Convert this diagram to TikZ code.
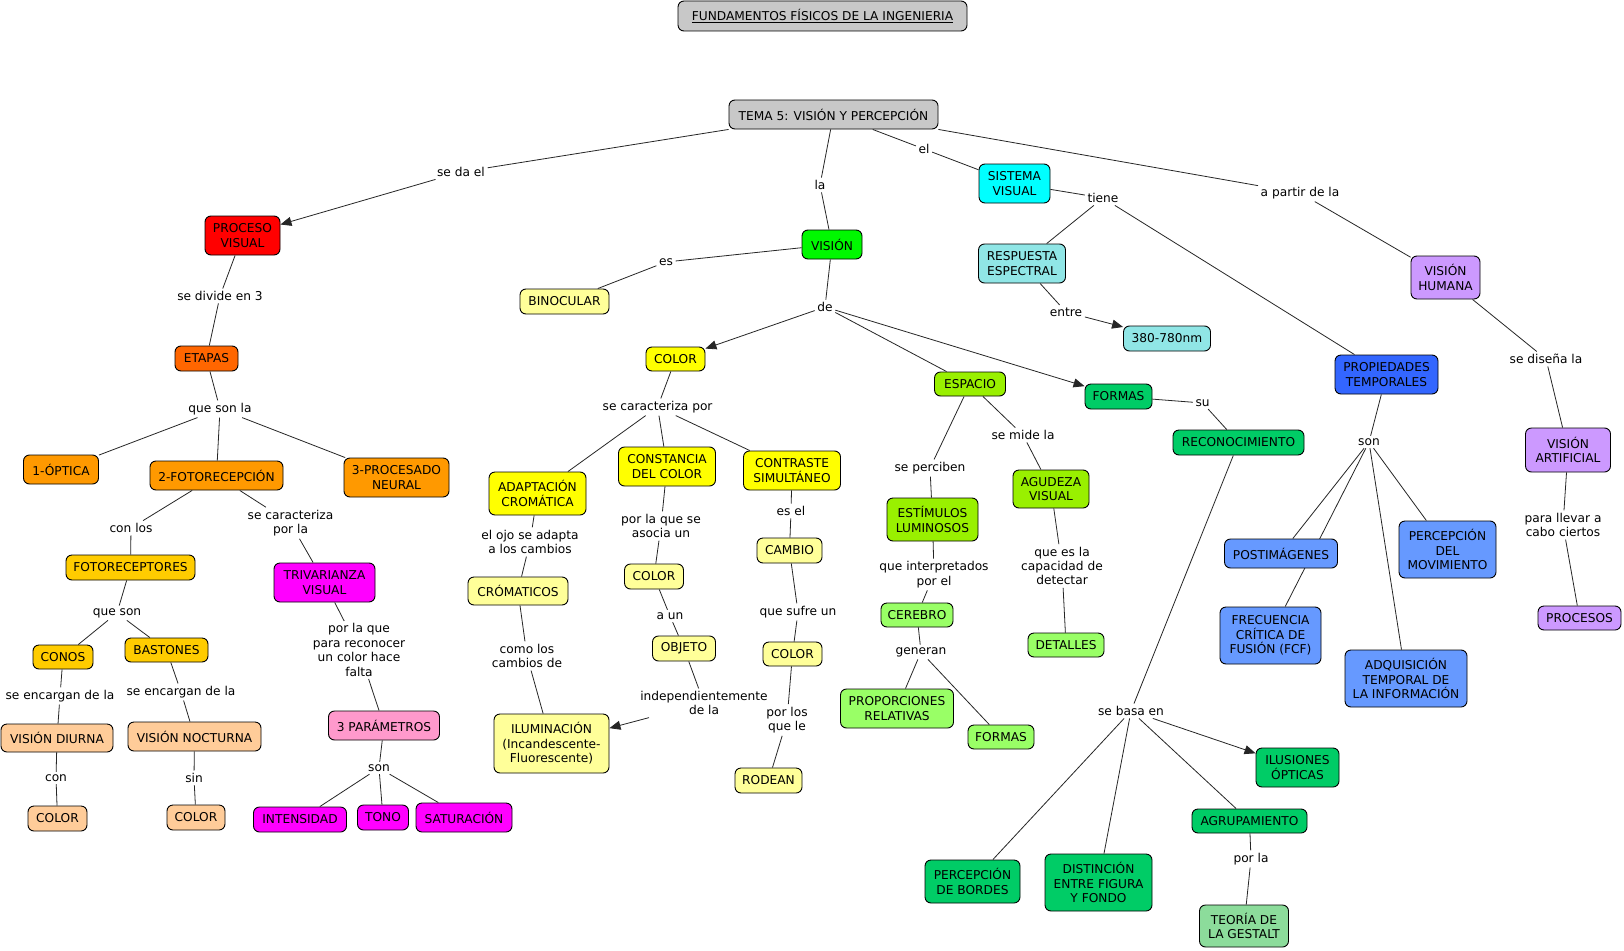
\documentclass[tikz,border=0pt]{standalone}
\usepackage{fontspec}
\setmainfont{DejaVu Sans}
\usetikzlibrary{arrows.meta}
\newcommand\fsz{\fontsize{12.2}{14.4}\selectfont}
\definecolor{cgray}{HTML}{C8C8C8}
\definecolor{cred}{HTML}{FF0000}
\definecolor{cetap}{HTML}{FF6600}
\definecolor{corng}{HTML}{FF9900}
\definecolor{cgold}{HTML}{FFCC00}
\definecolor{cpeach}{HTML}{FFCC99}
\definecolor{cmag}{HTML}{FF00FF}
\definecolor{cpink}{HTML}{FF99CC}
\definecolor{cgreen}{HTML}{00F800}
\definecolor{cyel}{HTML}{FFFF00}
\definecolor{clyel}{HTML}{FFFF99}
\definecolor{cchart}{HTML}{99F000}
\definecolor{clgreen}{HTML}{99FF66}
\definecolor{ccyan}{HTML}{00FFFF}
\definecolor{cteal}{HTML}{90E6E6}
\definecolor{cdgreen}{HTML}{00CC66}
\definecolor{cgestalt}{HTML}{8CDC9B}
\definecolor{cblue}{HTML}{3366FF}
\definecolor{clblue}{HTML}{6699FF}
\definecolor{cpurp}{HTML}{CC99FF}
\tikzset{
  cbox/.style={draw=black, rounded corners=6pt, line width=0.9pt, align=center, inner sep=1pt, font=\fsz, text=black},
  bxs/.style 2 args={minimum width=#1pt, minimum height=#2pt},
  lbl/.style={align=center, inner sep=2.5pt, font=\fsz, text=black},
  conn/.style={line width=0.8pt, draw=black!85},
  arw/.style={conn, -{Triangle[length=11pt,width=9pt]}},
}
\begin{document}
\begin{tikzpicture}[x=1pt,y=-1pt]
\useasboundingbox[fill=white] (0,0) rectangle (1624,950);
% ---------- concept nodes ----------
\node[cbox,fill=cgray,bxs={289}{30}] (title) at (822.5,16) {\underline{FUNDAMENTOS FÍSICOS DE LA INGENIERIA}};
\node[cbox,fill=cgray,bxs={209}{29}] (tema) at (833.5,114.5) {TEMA 5: VISIÓN Y PERCEPCIÓN};
\node[cbox,fill=cred,bxs={75}{39}] (pv) at (242.5,235.5) {PROCESO\\VISUAL};
\node[cbox,fill=cetap,bxs={63}{25}] (etapas) at (206.5,358.5) {ETAPAS};
\node[cbox,fill=corng,bxs={75}{29}] (optica) at (61,469.5) {1-ÓPTICA};
\node[cbox,fill=corng,bxs={133}{29}] (foto) at (216.5,475.5) {2-FOTORECEPCIÓN};
\node[cbox,fill=corng,bxs={105}{39}] (neural) at (396.5,477.5) {3-PROCESADO\\NEURAL};
\node[cbox,fill=cgold,bxs={129}{25}] (fotorec) at (130.5,567.5) {FOTORECEPTORES};
\node[cbox,fill=cmag,bxs={101}{39}] (trivar) at (324.5,582.5) {TRIVARIANZA\\VISUAL};
\node[cbox,fill=cgold,bxs={60}{24}] (conos) at (63,657) {CONOS};
\node[cbox,fill=cgold,bxs={83}{24}] (bastones) at (166.5,650) {BASTONES};
\node[cbox,fill=cpeach,bxs={112}{28}] (diurna) at (57,738) {VISIÓN DIURNA};
\node[cbox,fill=cpeach,bxs={133}{29}] (nocturna) at (194.5,736.5) {VISIÓN NOCTURNA};
\node[cbox,fill=cpeach,bxs={59}{25}] (colL) at (57.5,818.5) {COLOR};
\node[cbox,fill=cpeach,bxs={58}{25}] (colR) at (196,817.5) {COLOR};
\node[cbox,fill=cpink,bxs={111}{29}] (param) at (384,725.5) {3 PARÁMETROS};
\node[cbox,fill=cmag,bxs={93}{25}] (intens) at (300,819.5) {INTENSIDAD};
\node[cbox,fill=cmag,bxs={51}{25}] (tono) at (383,817.5) {TONO};
\node[cbox,fill=cmag,bxs={96}{29}] (satur) at (464,817.5) {SATURACIÓN};
\node[cbox,fill=cgreen,bxs={60}{29}] (vision) at (832,244.5) {VISIÓN};
\node[cbox,fill=clyel,bxs={89}{25}] (binoc) at (564.5,301.5) {BINOCULAR};
\node[cbox,fill=cyel,bxs={59}{24}] (colY) at (675.5,359) {COLOR};
\node[cbox,fill=cyel,bxs={97}{43}] (adapt) at (537.5,493.5) {ADAPTACIÓN\\CROMÁTICA};
\node[cbox,fill=cyel,bxs={97}{39}] (const) at (667,466.5) {CONSTANCIA\\DEL COLOR};
\node[cbox,fill=cyel,bxs={97}{39}] (contr) at (792,470.5) {CONTRASTE\\SIMULTÁNEO};
\node[cbox,fill=clyel,bxs={100}{28}] (cromat) at (518,591) {CRÓMATICOS};
\node[cbox,fill=clyel,bxs={115}{59}] (ilum) at (551.5,743.5) {ILUMINACIÓN\\(Incandescente-\\Fluorescente)};
\node[cbox,fill=clyel,bxs={59}{25}] (colM) at (654,576.5) {COLOR};
\node[cbox,fill=clyel,bxs={63}{25}] (objeto) at (684,648.5) {OBJETO};
\node[cbox,fill=clyel,bxs={65}{25}] (cambio) at (789.5,550.5) {CAMBIO};
\node[cbox,fill=clyel,bxs={59}{24}] (colLo) at (792.5,654) {COLOR};
\node[cbox,fill=clyel,bxs={67}{25}] (rodean) at (768.5,780.5) {RODEAN};
\node[cbox,fill=cchart,bxs={71}{24}] (espacio) at (970,384) {ESPACIO};
\node[cbox,fill=cchart,bxs={91}{43}] (estim) at (932.5,519.5) {ESTÍMULOS\\LUMINOSOS};
\node[cbox,fill=cchart,bxs={76}{38}] (agudeza) at (1051,489) {AGUDEZA\\VISUAL};
\node[cbox,fill=clgreen,bxs={72}{24}] (cerebro) at (917,615) {CEREBRO};
\node[cbox,fill=clgreen,bxs={113}{39}] (proporc) at (897,708.5) {PROPORCIONES\\RELATIVAS};
\node[cbox,fill=clgreen,bxs={66}{24}] (formasL) at (1001,737) {FORMAS};
\node[cbox,fill=clgreen,bxs={76}{24}] (detalles) at (1066,645) {DETALLES};
\node[cbox,fill=ccyan,bxs={71}{39}] (sistema) at (1014.5,183.5) {SISTEMA\\VISUAL};
\node[cbox,fill=cteal,bxs={87}{39}] (resp) at (1022,263.5) {RESPUESTA\\ESPECTRAL};
\node[cbox,fill=cteal,bxs={87}{25}] (nm) at (1167,338.5) {380-780nm};
\node[cbox,fill=cdgreen,bxs={67}{25}] (formasD) at (1118.5,396.5) {FORMAS};
\node[cbox,fill=cdgreen,bxs={131}{25}] (recon) at (1238.5,442.5) {RECONOCIMIENTO};
\node[cbox,fill=cdgreen,bxs={95}{43}] (bordes) at (972.5,881.5) {PERCEPCIÓN\\DE BORDES};
\node[cbox,fill=cdgreen,bxs={107}{57}] (distinc) at (1098.5,882.5) {DISTINCIÓN\\ENTRE FIGURA\\Y FONDO};
\node[cbox,fill=cdgreen,bxs={115}{24}] (agrup) at (1249.5,821) {AGRUPAMIENTO};
\node[cbox,fill=cdgreen,bxs={83}{39}] (ilus) at (1297.5,767.5) {ILUSIONES\\ÓPTICAS};
\node[cbox,fill=cgestalt,bxs={89}{42}] (gestalt) at (1244,926) {TEORÍA DE\\LA GESTALT};
\node[cbox,fill=cblue,bxs={103}{39}] (propied) at (1386.5,374.5) {PROPIEDADES\\TEMPORALES};
\node[cbox,fill=clblue,bxs={97}{57}] (movim) at (1447.5,549.5) {PERCEPCIÓN\\DEL\\MOVIMIENTO};
\node[cbox,fill=clblue,bxs={101}{57}] (fcf) at (1270.5,635.5) {FRECUENCIA\\CRÍTICA DE\\FUSIÓN (FCF)};
\node[cbox,fill=clblue,bxs={122}{57}] (adquis) at (1406,678.5) {ADQUISICIÓN\\TEMPORAL DE\\LA INFORMACIÓN};
\node[cbox,fill=cpurp,bxs={69}{43}] (vhum) at (1445.5,277.5) {VISIÓN\\HUMANA};
\node[cbox,fill=cpurp,bxs={85}{44}] (vart) at (1568,450) {VISIÓN\\ARTIFICIAL};
\node[cbox,fill=cpurp,bxs={83}{24}] (procesos) at (1579.5,618) {PROCESOS};
% ---------- linking phrases ----------
\node[lbl] (Lseda) at (461,172) {se da el};
\node[lbl] (Lla) at (820,185) {la};
\node[lbl] (Lel) at (924,149) {el};
\node[lbl] (Lapartir) at (1300,193) {a partir de la};
\node[lbl] (Ldivide) at (220,296) {se divide en 3};
\node[lbl] (Lqsonla) at (220,409) {que son la};
\node[lbl] (Lconlos) at (131,528) {con los};
\node[lbl] (Lcaractla) at (290.5,523) {se caracteriza\\por la};
\node[lbl] (Lqson) at (117,613) {que son};
\node[lbl] (Lporlaque) at (359,650) {por la que\\para reconocer\\un color hace\\falta};
\node[lbl] (Lencl) at (60,696) {se encargan de la};
\node[lbl] (Lencr) at (181,692) {se encargan de la};
\node[lbl] (Lcon) at (56,778) {con};
\node[lbl] (Lsin) at (194,778) {sin};
\node[lbl] (Lsonp) at (379,768) {son};
\node[lbl] (Les) at (666,262) {es};
\node[lbl] (Lde) at (825,307) {de};
\node[lbl] (Lcaractpor) at (657.6,407) {se caracteriza por};
\node[lbl] (Lojo) at (530,542) {el ojo se adapta\\a los cambios};
\node[lbl] (Lasocia) at (661,526) {por la que se\\asocia un};
\node[lbl] (Lesel) at (791,511) {es el};
\node[lbl] (Laun) at (670,616) {a un};
\node[lbl] (Lsufre) at (798,612) {que sufre un};
\node[lbl] (Lcomo) at (527,656) {como los\\cambios de};
\node[lbl] (Lindep) at (704,703) {independientemente\\de la};
\node[lbl] (Lporlos) at (787,720) {por los\\que le};
\node[lbl] (Lperciben) at (930,468) {se perciben};
\node[lbl] (Lmide) at (1023,435) {se mide la};
\node[lbl] (Linterp) at (934,574.5) {que interpretados\\por el};
\node[lbl] (Lgeneran) at (921,652) {generan};
\node[lbl] (Lcapac) at (1062,566) {que es la\\capacidad de\\detectar};
\node[lbl] (Ltiene) at (1103,198) {tiene};
\node[lbl] (Lentre) at (1066,312) {entre};
\node[lbl] (Lsu) at (1202.6,403) {su};
\node[lbl] (Lbasa) at (1131,711) {se basa en};
\node[lbl] (Lporla) at (1251,859) {por la};
\node[lbl] (Lsont) at (1369,442) {son};
\node[lbl] (Ldisena) at (1546,359) {se diseña la};
\node[lbl] (Lllevar) at (1563,525) {para llevar a\\cabo ciertos};
% line from "son" to FCF passes behind POSTIMAGENES
\draw[conn] (Lsont) -- (fcf);
\node[cbox,fill=clblue,bxs={113}{29}] (postim) at (1281,553.5) {POSTIMÁGENES};
% ---------- connectors ----------
\draw[conn] (tema.south west) -- (Lseda); \draw[arw] (Lseda) -- (pv);
\draw[conn] (tema) -- (Lla); \draw[conn] (Lla) -- (vision);
\draw[conn] (tema) -- (Lel); \draw[conn] (Lel) -- (sistema);
\draw[conn] (tema.south east) -- (Lapartir); \draw[conn] (Lapartir) -- (vhum);
\draw[conn] (pv) -- (Ldivide); \draw[conn] (Ldivide) -- (etapas);
\draw[conn] (etapas) -- (Lqsonla);
\draw[conn] (Lqsonla) -- (optica); \draw[conn] (Lqsonla) -- (foto); \draw[conn] (Lqsonla) -- (neural);
\draw[conn] (foto) -- (Lconlos); \draw[conn] (Lconlos) -- (fotorec);
\draw[conn] (foto) -- (Lcaractla); \draw[conn] (Lcaractla) -- (trivar);
\draw[conn] (fotorec) -- (Lqson); \draw[conn] (Lqson) -- (conos); \draw[conn] (Lqson) -- (bastones);
\draw[conn] (conos) -- (Lencl); \draw[conn] (Lencl) -- (diurna);
\draw[conn] (bastones) -- (Lencr); \draw[conn] (Lencr) -- (nocturna);
\draw[conn] (diurna) -- (Lcon); \draw[conn] (Lcon) -- (colL);
\draw[conn] (nocturna) -- (Lsin); \draw[conn] (Lsin) -- (colR);
\draw[conn] (trivar) -- (Lporlaque); \draw[conn] (Lporlaque) -- (param);
\draw[conn] (param) -- (Lsonp);
\draw[conn] (Lsonp) -- (intens); \draw[conn] (Lsonp) -- (tono); \draw[conn] (Lsonp) -- (satur);
\draw[conn] (vision) -- (Les); \draw[conn] (Les) -- (binoc);
\draw[conn] (vision) -- (Lde);
\draw[arw] (Lde) -- (colY); \draw[conn] (Lde) -- (espacio); \draw[arw] (Lde) -- (formasD);
\draw[conn] (colY) -- (Lcaractpor);
\draw[conn] (Lcaractpor) -- (adapt); \draw[conn] (Lcaractpor) -- (const); \draw[conn] (Lcaractpor) -- (contr);
\draw[conn] (adapt) -- (Lojo); \draw[conn] (Lojo) -- (cromat);
\draw[conn] (cromat) -- (Lcomo); \draw[conn] (Lcomo) -- (ilum);
\draw[conn] (const) -- (Lasocia); \draw[conn] (Lasocia) -- (colM);
\draw[conn] (colM) -- (Laun); \draw[conn] (Laun) -- (objeto);
\draw[conn] (objeto) -- (Lindep); \draw[arw] (Lindep) -- (ilum);
\draw[conn] (contr) -- (Lesel); \draw[conn] (Lesel) -- (cambio);
\draw[conn] (cambio) -- (Lsufre); \draw[conn] (Lsufre) -- (colLo);
\draw[conn] (colLo) -- (Lporlos); \draw[conn] (Lporlos) -- (rodean);
\draw[conn] (espacio) -- (Lperciben); \draw[conn] (Lperciben) -- (estim);
\draw[conn] (espacio) -- (Lmide); \draw[conn] (Lmide) -- (agudeza);
\draw[conn] (estim) -- (Linterp); \draw[conn] (Linterp) -- (cerebro);
\draw[conn] (cerebro) -- (Lgeneran); \draw[conn] (Lgeneran) -- (proporc); \draw[conn] (Lgeneran) -- (formasL);
\draw[conn] (agudeza) -- (Lcapac); \draw[conn] (Lcapac) -- (detalles);
\draw[conn] (sistema) -- (Ltiene); \draw[conn] (Ltiene) -- (resp); \draw[conn] (Ltiene) -- (propied);
\draw[conn] (resp) -- (Lentre); \draw[arw] (Lentre) -- (nm);
\draw[conn] (formasD) -- (Lsu); \draw[conn] (Lsu) -- (recon);
\draw[conn] (recon) -- (Lbasa);
\draw[conn] (Lbasa) -- (bordes); \draw[conn] (Lbasa) -- (distinc); \draw[conn] (Lbasa) -- (agrup); \draw[arw] (Lbasa) -- (ilus);
\draw[conn] (agrup) -- (Lporla); \draw[conn] (Lporla) -- (gestalt);
\draw[conn] (propied) -- (Lsont);
\draw[conn] (Lsont) -- (postim); \draw[conn] (Lsont) -- (movim); \draw[conn] (Lsont) -- (adquis);
\draw[conn] (vhum) -- (Ldisena); \draw[conn] (Ldisena) -- (vart);
\draw[conn] (vart) -- (Lllevar); \draw[conn] (Lllevar) -- (procesos);
\end{tikzpicture}
\end{document}
